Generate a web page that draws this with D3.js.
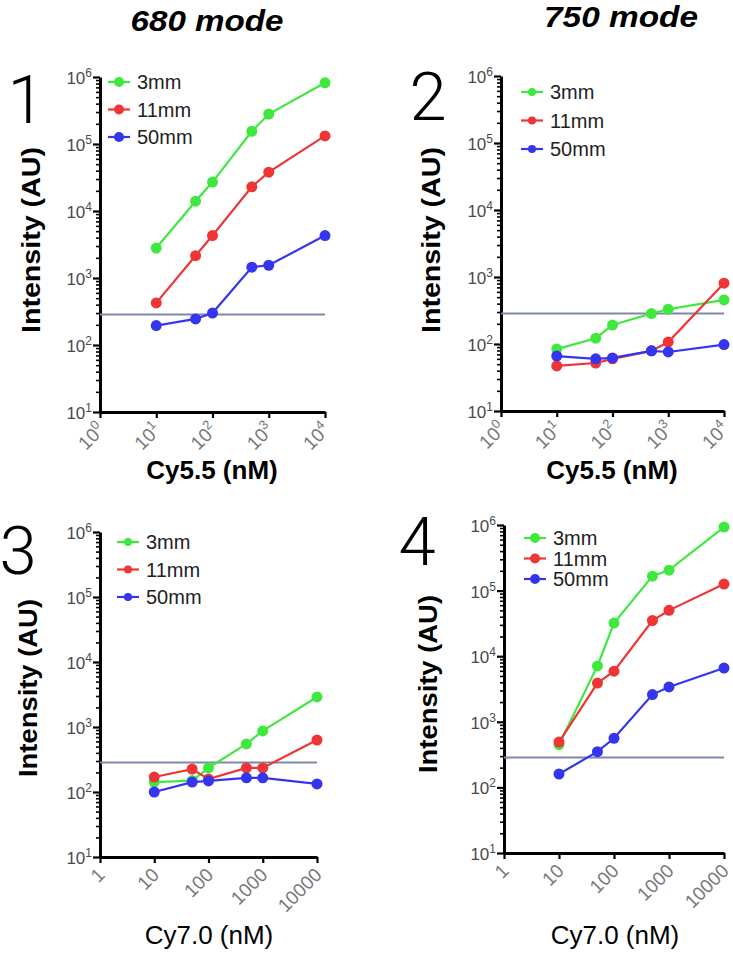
<!DOCTYPE html>
<html><head><meta charset="utf-8">
<script src="https://cdn.jsdelivr.net/npm/d3@7"></script>
<style>body{margin:0;background:#fff}svg{display:block}</style>
</head><body>
<script>
// ---------- data ----------
const concentrations = [10, 50, 100, 500, 1000, 10000];
const seriesNames = ["3mm", "11mm", "50mm"];
const seriesColors = ["#3fe83f", "#ee3535", "#3535ee"];
const thresholdValue = 285;
const yTickValues = [10, 100, 1000, 10000, 100000, 1000000];
const xTickValues = [1, 10, 100, 1000, 10000];
const xTickLabelsPlain = ["1", "10", "100", "1000", "10000"];
const columnTitles = ["680 mode", "750 mode"];

const panel1_3mm  = [2800, 14000, 27000, 155000, 280000, 820000];
const panel1_11mm = [425, 2150, 4300, 23000, 38000, 132000];
const panel1_50mm = [195, 245, 300, 1450, 1550, 4300];

const panel2_3mm  = [84, 122, 192, 285, 330, 455];
const panel2_11mm = [47, 52, 60, 79, 107, 810];
const panel2_50mm = [66, 60, 62, 79, 76, 98];

const panel3_3mm  = [142, 150, 235, 550, 870, 2900];
const panel3_11mm = [170, 225, 158, 235, 235, 630];
const panel3_50mm = [100, 142, 148, 165, 165, 133];

const panel4_3mm  = [450, 7100, 32000, 166000, 205000, 930000];
const panel4_11mm = [490, 3900, 5900, 35000, 50000, 126000];
const panel4_50mm = [160, 350, 560, 2600, 3400, 6600];

// ---------- layout ----------
const W = 733, H = 959;
const panels = [
  {num:"1", series:[panel1_3mm, panel1_11mm, panel1_50mm], x0:100, x1:325, yTop:77, yBot:412,
   supTicks:true, xLabel:"Cy5.5 (nM)", xBold:true, xlX:212, xlY:479,
   numX:26, numY:123, legX:108, legY:82, legDy:27.5, legR:5, ylX:31, ylY:240, ylLen:186},
  {num:"2", series:[panel2_3mm, panel2_11mm, panel2_50mm], x0:501, x1:724, yTop:76, yBot:411,
   supTicks:true, xLabel:"Cy5.5 (nM)", xBold:true, xlX:612, xlY:479,
   numX:428, numY:120, legX:521, legY:92, legDy:28.5, legR:4, ylX:431, ylY:240, ylLen:186},
  {num:"3", series:[panel3_3mm, panel3_11mm, panel3_50mm], x0:100, x1:317, yTop:532, yBot:857,
   supTicks:false, xLabel:"Cy7.0 (nM)", xBold:false, xlX:209, xlY:944,
   numX:18, numY:574, legX:117, legY:542, legDy:27.5, legR:4, ylX:28, ylY:688, ylLen:178},
  {num:"4", series:[panel4_3mm, panel4_11mm, panel4_50mm], x0:504, x1:724, yTop:525, yBot:853,
   supTicks:false, xLabel:"Cy7.0 (nM)", xBold:false, xlX:615, xlY:944,
   numX:417, numY:565, legX:524, legY:538, legDy:20.5, legR:5, ylX:428, ylY:684, ylLen:178}
];

const svg = d3.select("body").append("svg").attr("width", W).attr("height", H)
  .style("font-family", "Arial, 'Liberation Sans', Helvetica, sans-serif");

// column titles
svg.append("text").attr("x", 207).attr("y", 31).attr("text-anchor", "middle")
  .attr("font-size", 30).attr("font-weight", "bold").attr("font-style", "italic")
  .attr("textLength", 153).attr("lengthAdjust", "spacingAndGlyphs").text(columnTitles[0]);
svg.append("text").attr("x", 621).attr("y", 27).attr("text-anchor", "middle")
  .attr("font-size", 30).attr("font-weight", "bold").attr("font-style", "italic")
  .attr("textLength", 154).attr("lengthAdjust", "spacingAndGlyphs").text(columnTitles[1]);

const minorTicks = [];
for (let d = 10; d < 1e6; d *= 10) for (let k = 2; k <= 9; k++) minorTicks.push(d * k);

panels.forEach(p => {
  const g = svg.append("g");
  const x = d3.scaleLog().domain([1, 10000]).range([p.x0, p.x1]);
  const y = d3.scaleLog().domain([10, 1e6]).range([p.yBot, p.yTop]);

  // y axis minor
  const gm = g.append("g").attr("transform", `translate(${p.x0},0)`)
    .call(d3.axisLeft(y).tickValues(minorTicks).tickSize(4).tickSizeOuter(0).tickFormat(""));
  gm.select(".domain").remove();
  gm.selectAll("line").attr("stroke", "#000").attr("stroke-width", 1.6);
  // y axis major
  const gy = g.append("g").attr("transform", `translate(${p.x0},0)`)
    .call(d3.axisLeft(y).tickValues(yTickValues).tickSize(7).tickSizeOuter(0).tickFormat(""));
  gy.select(".domain").attr("stroke", "#000").attr("stroke-width", 3);
  gy.selectAll("line").attr("stroke", "#000").attr("stroke-width", 2.2);
  yTickValues.forEach(v => {
    const t = g.append("text").attr("x", p.x0 - 8).attr("y", y(v) + 7)
      .attr("text-anchor", "end").attr("font-size", 17).attr("fill", "#4a4a4a");
    t.append("tspan").text("10");
    t.append("tspan").attr("dy", -7).attr("font-size", 12).text(String(Math.round(Math.log10(v))));
  });

  // x axis
  const gx = g.append("g").attr("transform", `translate(0,${p.yBot})`)
    .call(d3.axisBottom(x).tickValues(xTickValues).tickSize(6).tickSizeOuter(0).tickFormat(""));
  gx.select(".domain").attr("stroke", "#000").attr("stroke-width", 3);
  gx.selectAll("line").attr("stroke", "#000").attr("stroke-width", 2.2);
  xTickValues.forEach((v, i) => {
    const t = g.append("text")
      .attr("transform", `translate(${x(v) + 6},${p.yBot + 19}) rotate(-45)`)
      .attr("text-anchor", "end").attr("font-size", 19).attr("fill", "#777");
    if (p.supTicks) {
      t.append("tspan").text("10");
      t.append("tspan").attr("dy", -8).attr("font-size", 13).text(String(i));
    } else {
      t.text(xTickLabelsPlain[i]);
    }
  });

  // threshold line
  g.append("line").attr("x1", p.x0).attr("x2", p.x1)
    .attr("y1", y(thresholdValue)).attr("y2", y(thresholdValue))
    .attr("stroke", "#7d88a6").attr("stroke-width", 2);

  // series
  const line = d3.line().x(d => x(d[0])).y(d => y(d[1]));
  p.series.forEach((vals, si) => {
    const pts = concentrations.map((c, i) => [c, vals[i]]);
    g.append("path").datum(pts).attr("d", line).attr("fill", "none")
      .attr("stroke", seriesColors[si]).attr("stroke-width", 2.2);
    g.selectAll(null).data(pts).enter().append("circle")
      .attr("cx", d => x(d[0])).attr("cy", d => y(d[1])).attr("r", 5.5)
      .attr("fill", seriesColors[si]);
  });

  // legend
  seriesNames.forEach((n, si) => {
    const ly = p.legY + si * p.legDy;
    g.append("line").attr("x1", p.legX).attr("x2", p.legX + 22).attr("y1", ly).attr("y2", ly)
      .attr("stroke", seriesColors[si]).attr("stroke-width", 2.2);
    g.append("circle").attr("cx", p.legX + 11).attr("cy", ly).attr("r", p.legR).attr("fill", seriesColors[si]);
    g.append("text").attr("x", p.legX + 29).attr("y", ly + 7).attr("font-size", 20).attr("fill", "#222").text(n);
  });

  // axis labels
  g.append("text").attr("transform", `translate(${p.ylX + 9},${p.ylY}) rotate(-90)`)
    .attr("text-anchor", "middle").attr("font-size", 25).attr("font-weight", "bold")
    .attr("textLength", p.ylLen).attr("lengthAdjust", "spacingAndGlyphs").text("Intensity (AU)");
  g.append("text").attr("x", p.xlX).attr("y", p.xlY).attr("text-anchor", "middle")
    .attr("font-size", 26).attr("font-weight", p.xBold ? "bold" : "normal").text(p.xLabel);

  // panel number
  g.append("text").attr("x", p.numX).attr("y", p.numY).attr("text-anchor", "middle")
    .attr("font-size", 67).attr("font-weight", 300)
    .style("font-family", "Roboto, 'Open Sans', Arial, sans-serif").text(p.num);
});
</script>
</body></html>
